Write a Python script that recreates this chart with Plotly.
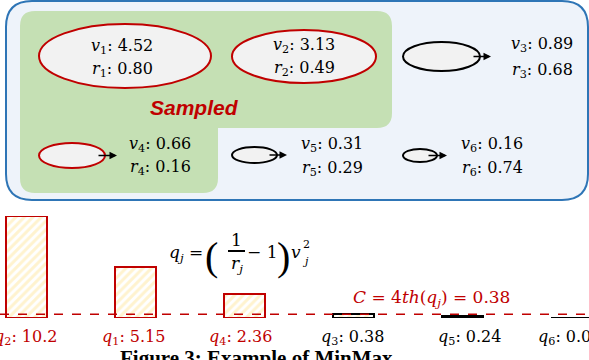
import plotly.graph_objects as go

# ---------------- data ----------------
item_ids = [1, 2, 3, 4, 5, 6]
v_values = [4.52, 3.13, 0.89, 0.66, 0.31, 0.16]
r_values = [0.80, 0.49, 0.68, 0.16, 0.29, 0.74]
sampled = [True, True, False, True, False, False]

q_ids = [2, 1, 4, 3, 5, 6]
q_values = [10.2, 5.15, 2.36, 0.38, 0.24, 0.01]
q_labels = ["10.2", "5.15", "2.36", "0.38", "0.24", "0.01"]
q_sampled = [True, True, True, False, False, False]
threshold_C = 0.38
caption = "Figure 3: Example of MinMax"

# ---------------- styles ----------------
RED = "#C00000"
BLUE = "#2E75B6"
PANEL = "#EEF3FA"
GREEN = "#C5E0B4"
ELL = "#F2F2F2"
SERIF = "DejaVu Serif"
FS = 16

fig = go.Figure()

# bars (secondary axes)
bar_bg = ["#FFF3CF", "#FFF3CF", "#FFF3CF", "#FFF3CF", "#3F3F3F", "#FFFFFF"]
bar_fg = ["#FFD24D", "#FFD24D", "#FFD24D", "#FFD24D", "#3F3F3F", "#FFFFFF"]
bar_pat = ["/", "/", "/", "/", "", ""]
bar_line = [RED if s else "#000000" for s in q_sampled]
fig.add_trace(go.Bar(
    x=list(range(len(q_values))), y=q_values, width=0.376,
    xaxis="x2", yaxis="y2",
    marker=dict(color=bar_bg, line=dict(color=bar_line, width=2),
                pattern=dict(shape=bar_pat, fgcolor=bar_fg, bgcolor=bar_bg,
                             fgopacity=1, size=6, solidity=0.5, fillmode="replace")),
    hoverinfo="skip", showlegend=False))

shapes = []
ann = []

def rrect_path(x0, y0, x1, y1, r):
    return (f"M{x0+r},{y0} L{x1-r},{y0} Q{x1},{y0} {x1},{y0+r} L{x1},{y1-r} "
            f"Q{x1},{y1} {x1-r},{y1} L{x0+r},{y1} Q{x0},{y1} {x0},{y1-r} "
            f"L{x0},{y0+r} Q{x0},{y0} {x0+r},{y0} Z")

shapes.append(dict(type="path", xref="x", yref="y", path=rrect_path(6, 1, 588, 200, 26),
                   fillcolor=PANEL, line=dict(color=BLUE, width=2), layer="below"))
r = 15
gpath = (f"M{20+r},11 L{392-r},11 Q392,11 392,{11+r} L392,{128-r} Q392,128 {392-r},128 "
         f"L218,128 L218,{193-r} Q218,193 {218-r},193 L{20+r},193 Q20,193 20,{193-r} "
         f"L20,{11+r} Q20,11 {20+r},11 Z")
shapes.append(dict(type="path", xref="x", yref="y", path=gpath,
                   fillcolor=GREEN, line=dict(width=0), layer="below"))

# ellipses
ell_boxes = [(39, 24, 211, 88), (232, 30, 376, 83), (403, 42, 480, 71),
             (39, 143, 105, 168), (232, 147, 277, 163), (403, 149, 437, 162)]
for (x0, y0, x1, y1), s in zip(ell_boxes, sampled):
    shapes.append(dict(type="circle", xref="x", yref="y", x0=x0, y0=y0, x1=x1, y1=y1,
                       fillcolor=ELL, line=dict(color=RED if s else "#000000", width=2),
                       layer="below"))

# arrows
arrows = [(472, 491, 56.5), (97, 117, 155.5), (268, 287, 155), (427, 447, 155.5)]
for xt, xh, y in arrows:
    ann.append(dict(x=xh, y=y, ax=xt, ay=y, xref="x", yref="y", axref="x", ayref="y",
                    text="", showarrow=True, arrowhead=2, arrowsize=1, arrowwidth=1.5,
                    arrowcolor="#000000"))

# item labels
label_pos = [(122, 46, 69), (304, 45, 68), (542, 44, 70),
             (160, 144, 167), (332, 144, 168), (492, 144, 168)]
for i, (x, yv, yr) in enumerate(label_pos):
    k = item_ids[i]
    ann.append(dict(x=x, y=yv, xref="x", yref="y", showarrow=False,
                    text=f"<i>v</i><sub>{k}</sub>: {v_values[i]:.2f}",
                    font=dict(family=SERIF, size=FS, color="#000")))
    ann.append(dict(x=x, y=yr, xref="x", yref="y", showarrow=False,
                    text=f"<i>r</i><sub>{k}</sub>: {r_values[i]:.2f}",
                    font=dict(family=SERIF, size=FS, color="#000")))

ann.append(dict(x=194.5, y=107, xref="x", yref="y", showarrow=False,
                text="<b><i>Sampled</i></b>",
                font=dict(family="Liberation Sans", size=21, color=RED)))

# q labels under bars
label_shift = [-1, -2, -4, -1, 7, -2]
for i, (k, lab, s) in enumerate(zip(q_ids, q_labels, q_sampled)):
    ann.append(dict(x=i, y=337, xref="x2", yref="y", showarrow=False,
                    xshift=label_shift[i], borderpad=0,
                    text=f"<i>q</i><sub>{k}</sub>: {lab}",
                    font=dict(family=SERIF, size=FS, color=RED if s else "#000")))

# threshold line
shapes.append(dict(type="line", xref="paper", yref="y2", x0=0, x1=1,
                   y0=threshold_C, y1=threshold_C,
                   line=dict(color=RED, width=1.5, dash="dash")))
ann.append(dict(x=431, y=298, xref="x", yref="y", showarrow=False,
                text=f"<i>C</i> = 4<i>th</i>(<i>q<sub>j</sub></i>) = {threshold_C:.2f}",
                font=dict(family=SERIF, size=17, color=RED)))

# formula
F = dict(family=SERIF, size=17, color="#000")
ann.append(dict(x=167, y=253, xref="x", yref="y", xanchor="left", showarrow=False,
                text="<i>q<sub>j</sub></i> =", font=F))
ann.append(dict(x=211, y=256, xref="x", yref="y", showarrow=False, text="(",
                font=dict(family="Liberation Serif", size=40, color="#000")))
ann.append(dict(x=236.5, y=240, xref="x", yref="y", showarrow=False, text="1", font=F))
shapes.append(dict(type="line", xref="x", yref="y", x0=228, x1=245, y0=251, y1=251,
                   line=dict(color="#000", width=2)))
ann.append(dict(x=237, y=264, xref="x", yref="y", showarrow=False,
                text="<i>r<sub>j</sub></i>", font=F))
ann.append(dict(x=262, y=252, xref="x", yref="y", showarrow=False, text="− 1", font=F))
ann.append(dict(x=283, y=256, xref="x", yref="y", showarrow=False, text=")",
                font=dict(family="Liberation Serif", size=40, color="#000")))
ann.append(dict(x=296, y=252, xref="x", yref="y", showarrow=False, text="<i>v</i>", font=F))
ann.append(dict(x=306, y=244, xref="x", yref="y", showarrow=False, text="2",
                font=dict(family=SERIF, size=11, color="#000")))
ann.append(dict(x=305, y=261, xref="x", yref="y", showarrow=False, text="<i>j</i>",
                font=dict(family=SERIF, size=11, color="#000")))

# caption
ann.append(dict(x=119, y=358, xref="x", yref="y", xanchor="left", yanchor="middle",
                showarrow=False, borderpad=0, text=f"<b>{caption}</b>",
                font=dict(family="Liberation Serif", size=21, color="#000")))

hidden = dict(visible=False, showgrid=False, zeroline=False, fixedrange=True)
fig.update_layout(
    width=589, height=360, margin=dict(l=0, r=0, t=0, b=0),
    paper_bgcolor="white", plot_bgcolor="rgba(0,0,0,0)",
    xaxis=dict(range=[0, 589], domain=[0, 1], **hidden),
    yaxis=dict(range=[360, 0], domain=[0, 1], **hidden),
    xaxis2=dict(range=[-0.2402, 5.1605], domain=[0, 1], anchor="y2", overlaying="x", **hidden),
    yaxis2=dict(range=[0, 10.2], domain=[42/360, 144/360], anchor="x2", **hidden),
    shapes=shapes, annotations=ann, bargap=0, showlegend=False,
)

fig.write_html("out.html", config={"displayModeBar": False},
               post_script="document.body.style.margin='0';document.body.style.overflow='hidden';")
